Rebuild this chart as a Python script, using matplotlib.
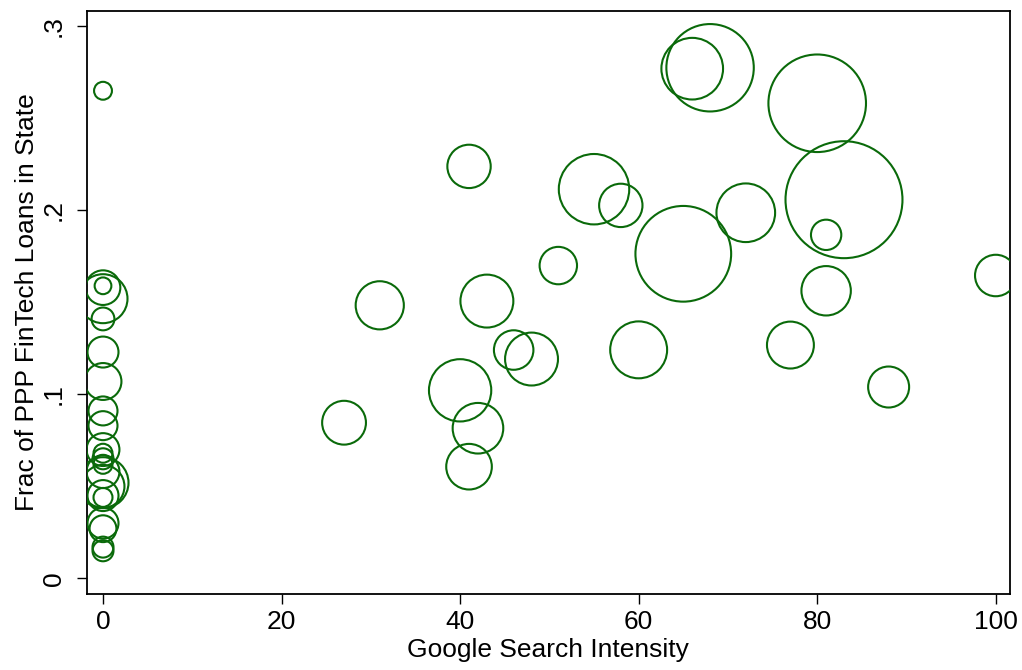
import matplotlib
matplotlib.use("Agg")
import matplotlib.pyplot as plt
import numpy as np

# Google search intensity (x), fraction of PPP FinTech loans (y), bubble weight
search_pos = [27, 31, 41, 40, 43, 42, 41, 46, 48, 51, 55, 58, 60, 65, 66, 68,
              72, 77, 80, 83, 81, 81, 88, 100]
frac_pos = [0.0846, 0.1484, 0.2239, 0.1022, 0.1507, 0.0816, 0.0607, 0.1241,
            0.1192, 0.1700, 0.2115, 0.2027, 0.1242, 0.1764, 0.2770, 0.2775,
            0.1987, 0.1268, 0.2582, 0.2058, 0.1867, 0.1563, 0.1040, 0.1646]
weight_pos = [4.8, 5.8, 4.7, 9.7, 7.0, 6.4, 5.2, 3.9, 7.0, 3.5, 12.4, 4.7,
              8.1, 22.9, 9.5, 19.1, 8.6, 5.5, 23.8, 34.2, 2.3, 6.1, 4.2, 4.3]

search_zero = [0] * 22
frac_zero = [0.265, 0.159, 0.158, 0.152, 0.141, 0.123, 0.107, 0.091, 0.083,
             0.070, 0.068, 0.065, 0.062, 0.058, 0.052, 0.050, 0.045, 0.044,
             0.030, 0.027, 0.017, 0.015]
weight_zero = [0.8, 0.7, 3.0, 6.0, 1.3, 2.4, 3.4, 2.1, 2.1, 2.7, 0.9, 1.1,
               0.9, 2.7, 6.5, 4.6, 2.4, 0.9, 2.4, 1.8, 1.1, 1.1]

x_ticks = [0, 20, 40, 60, 80, 100]
y_ticks = [0, 0.1, 0.2, 0.3]
y_ticklabels = ["0", ".1", ".2", ".3"]

plt.rcParams['font.family'] = ['Liberation Sans', 'DejaVu Sans']

fig = plt.figure(figsize=(10.22, 6.70), dpi=100)
ax = fig.add_axes([0.0848, 0.1134, 0.9035, 0.8706])

x = np.array(search_zero + search_pos, dtype=float)
y = np.array(frac_zero + frac_pos, dtype=float)
w = np.array(weight_zero + weight_pos, dtype=float)
sizes = w * 100 * (1.44 ** 2)

green = '#0a6a0a'
ax.scatter(x, y, s=sizes, facecolors='none', edgecolors=green, linewidths=1.5,
           zorder=3)

ax.set_xlim(-1.83, 101.6)
ax.set_ylim(-0.0085, 0.3085)
ax.set_xticks(x_ticks)
ax.set_xticklabels([str(t) for t in x_ticks])
ax.set_yticks(y_ticks)
ax.set_yticklabels(y_ticklabels, rotation=90, va='center')

ax.tick_params(axis='both', length=7.2, width=1.0, labelsize=19, color='black')
ax.tick_params(axis='x', pad=4)
ax.tick_params(axis='y', pad=8)
for sp in ax.spines.values():
    sp.set_linewidth(1.3)

ax.set_xlabel("Google Search Intensity", fontsize=19, labelpad=3)
ax.set_ylabel("Frac of PPP FinTech Loans in State", fontsize=19, labelpad=2)

fig.savefig("out.png", dpi=100)
